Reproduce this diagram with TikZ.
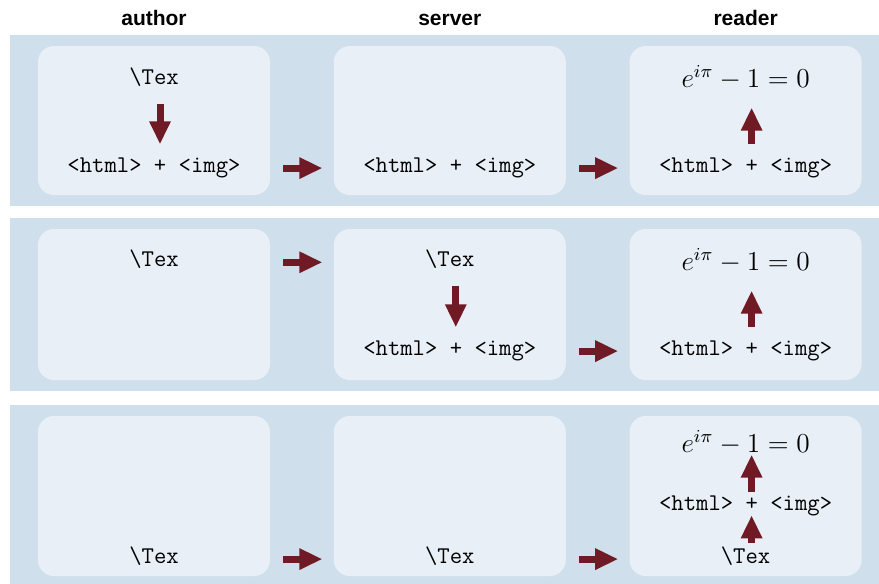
\documentclass[tikz,border=0pt]{standalone}
\usepackage{amsmath}
\usepackage{fontspec}
\setsansfont{Liberation Sans}
\usepackage{tikz}
\usetikzlibrary{arrows.meta,positioning}
\definecolor{bandblue}{RGB}{207,224,236}
\definecolor{boxblue}{RGB}{232,239,246}
\definecolor{flowred}{RGB}{111,26,36}
\tikzstyle{stage}=[fill=boxblue, rounded corners=8pt, minimum width=116pt, inner sep=0pt]
\tikzstyle{stage1}=[stage, minimum height=74.5pt]
\tikzstyle{stage2}=[stage, minimum height=75.5pt]
\tikzstyle{stage3}=[stage, minimum height=80pt]
\tikzstyle{code}=[anchor=base, inner sep=1pt, font=\ttfamily\fontsize{12}{14}\selectfont]
\tikzstyle{formula}=[anchor=base, inner sep=1pt, scale=1.14, font=\fontsize{12}{14}\selectfont]
\tikzstyle{who}=[anchor=base, font=\sffamily\bfseries\fontsize{10.5}{12}\selectfont]
\tikzset{%
    band/.style={fill=bandblue},
    pass/.style={-{Triangle[length=11.5pt,width=10pt]},line width=3.5pt,draw=flowred},
    handoff/.style={pass,shorten <=6.5pt,shorten >=5.5pt},
    down/.style={pass,shorten <=7.5pt,shorten >=5.5pt},
    up/.style={pass,shorten <=5.5pt,shorten >=7.5pt},
    upclose/.style={pass,shorten <=0.5pt,shorten >=-1.5pt},
  }

\begin{document}
\begin{tikzpicture}[x=0.5pt,y=-0.5pt,node distance=31.5pt]
    \useasboundingbox (0,0) rectangle (879,584);
    % background strips, one per scenario
    \fill[band] (10,35) rectangle (879,206);
    \fill[band] (10,218) rectangle (879,391);
    \fill[band] (10,405) rectangle (879,584);
    %
    \node (a1) [stage1] at (154,120.5) {};
    \node (s1) [stage1, right=of a1] {};
    \node (r1) [stage1, right=of s1] {};
    \node (a2) [stage2] at (154,304.5) {};
    \node (s2) [stage2, right=of a2] {};
    \node (r2) [stage2, right=of s2] {};
    \node (a3) [stage3] at (154,496) {};
    \node (s3) [stage3, right=of a3] {};
    \node (r3) [stage3, right=of s3] {};
    %
    \node (hA) [who] at ([yshift=10pt]a1.north) {author};
    \node (hS) [who] at ([yshift=10pt]s1.north) {server};
    \node (hR) [who] at ([yshift=10pt]r1.north) {reader};
    %
    % first row: the author converts
    \node (t11) [code] at ([yshift=-19.5pt]a1.north) {\textbackslash Tex};
    \node (h11) [code] at ([yshift=11.5pt]a1.south) {<html> + <img>};
    \node (h12) [code] at ([yshift=11.5pt]s1.south) {<html> + <img>};
    \node (e13) [formula] at ([yshift=-21pt]r1.north) {$e^{i\pi}-1=0$};
    \node (h13) [code] at ([yshift=11.5pt]r1.south) {<html> + <img>};
    \draw[down] ([xshift=3pt]t11.south) -- ([xshift=3pt]h11.north);
    \draw[up] ([xshift=3pt]h13.north) -- ([xshift=3pt]e13.south);
    \draw[handoff] (a1.east |- h11.mid) -- (s1.west |- h11.mid);
    \draw[handoff] (s1.east |- h12.mid) -- (r1.west |- h12.mid);
    %
    % second row: the server converts
    \node (t21) [code] at ([yshift=-19pt]a2.north) {\textbackslash Tex};
    \node (t22) [code] at ([yshift=-19pt]s2.north) {\textbackslash Tex};
    \node (h22) [code] at ([yshift=12.5pt]s2.south) {<html> + <img>};
    \node (e23) [formula] at ([yshift=-21pt]r2.north) {$e^{i\pi}-1=0$};
    \node (h23) [code] at ([yshift=12.5pt]r2.south) {<html> + <img>};
    \draw[down] ([xshift=3pt]t22.south) -- ([xshift=3pt]h22.north);
    \draw[up] ([xshift=3pt]h23.north) -- ([xshift=3pt]e23.south);
    \draw[handoff] (a2.east |- t21.mid) -- (s2.west |- t21.mid);
    \draw[handoff] (s2.east |- h22.mid) -- (r2.west |- h22.mid);
    %
    % third row: the reader converts
    \node (t31) [code] at ([yshift=6.5pt]a3.south) {\textbackslash Tex};
    \node (t32) [code] at ([yshift=6.5pt]s3.south) {\textbackslash Tex};
    \node (t33) [code] at ([yshift=6.5pt]r3.south) {\textbackslash Tex};
    \node (h33) [code] at ([yshift=33pt]r3.south) {<html> + <img>};
    \node (e33) [formula] at ([yshift=-18.5pt]r3.north) {$e^{i\pi}-1=0$};
    \draw[upclose] ([xshift=3pt]t33.north) -- ([xshift=3pt]h33.south);
    \draw[upclose] ([xshift=3pt]h33.north) -- ([xshift=3pt]e33.south);
    \draw[handoff] (a3.east |- t31.mid) -- (s3.west |- t31.mid);
    \draw[handoff] (s3.east |- t32.mid) -- (r3.west |- t32.mid);
\end{tikzpicture}
\end{document}
